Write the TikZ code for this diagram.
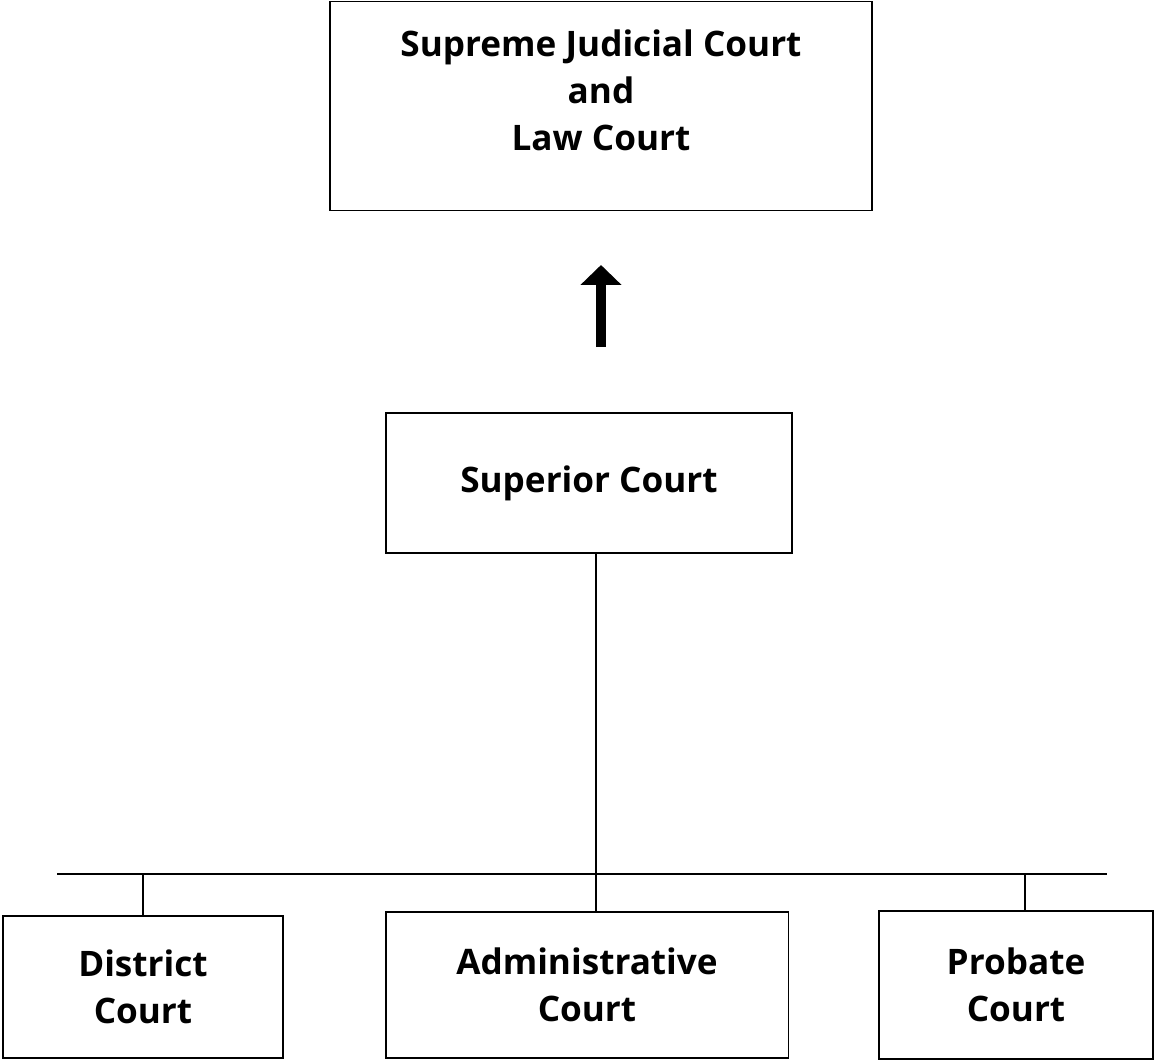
\documentclass[tikz,border=0pt]{standalone}
\usepackage{fontspec}
\setmainfont{Open Sans}
\usetikzlibrary{arrows.meta}
\tikzset{
	court/.style={draw, line width=1.1pt, align=center, inner sep=0pt,
		font=\bfseries\fontsize{20}{26.7}\selectfont},
	wire/.style={line width=1.1pt}
}

\begin{document}
\begin{tikzpicture}[x=0.02cm, y=-0.02cm]
		%%%%% START %%%%%
		\useasboundingbox (0, 0) rectangle (1156, 1061);
		
		\node[court, minimum width=10.84cm, minimum height=4.18cm, text depth=0.62cm] (sjc) at (601, 106) {Supreme Judicial Court\\and\\Law Court};
		
		\coordinate (arrbot) at (601, 347);
		\coordinate (arrtop) at (601, 265);
		\draw[line width=0.2cm, -{Triangle[width=0.8cm, length=0.4cm]}] (arrbot) -- (arrtop);
		
		\node[court, minimum width=8.12cm, minimum height=2.8cm] (sup) at (589, 483) {Superior Court};
		
		\node[court, minimum width=5.6cm, minimum height=2.84cm] (dis) at (143, 987) {District\\Court};
		\node[court, minimum width=8.06cm, minimum height=2.92cm] (adm) at (587, 985) {Administrative\\Court};
		\node[court, minimum width=5.48cm, minimum height=2.96cm] (pro) at (1016, 985) {Probate\\Court};
		
		\coordinate (busl) at (57, 874);
		\coordinate (busr) at (1107, 874);
		\coordinate (trunk) at (596, 874);
		\coordinate (brpro) at (1025, 874);
		
		\draw[wire] (busl) -- (busr);
		\draw[wire] (sup.south -| trunk) -- (adm.north -| trunk);
		\draw[wire] (dis.north |- busl) -- (dis.north);
		\draw[wire] (brpro) -- (brpro |- pro.north);
		
		%%%%% END %%%%%
	\end{tikzpicture}
\end{document}
